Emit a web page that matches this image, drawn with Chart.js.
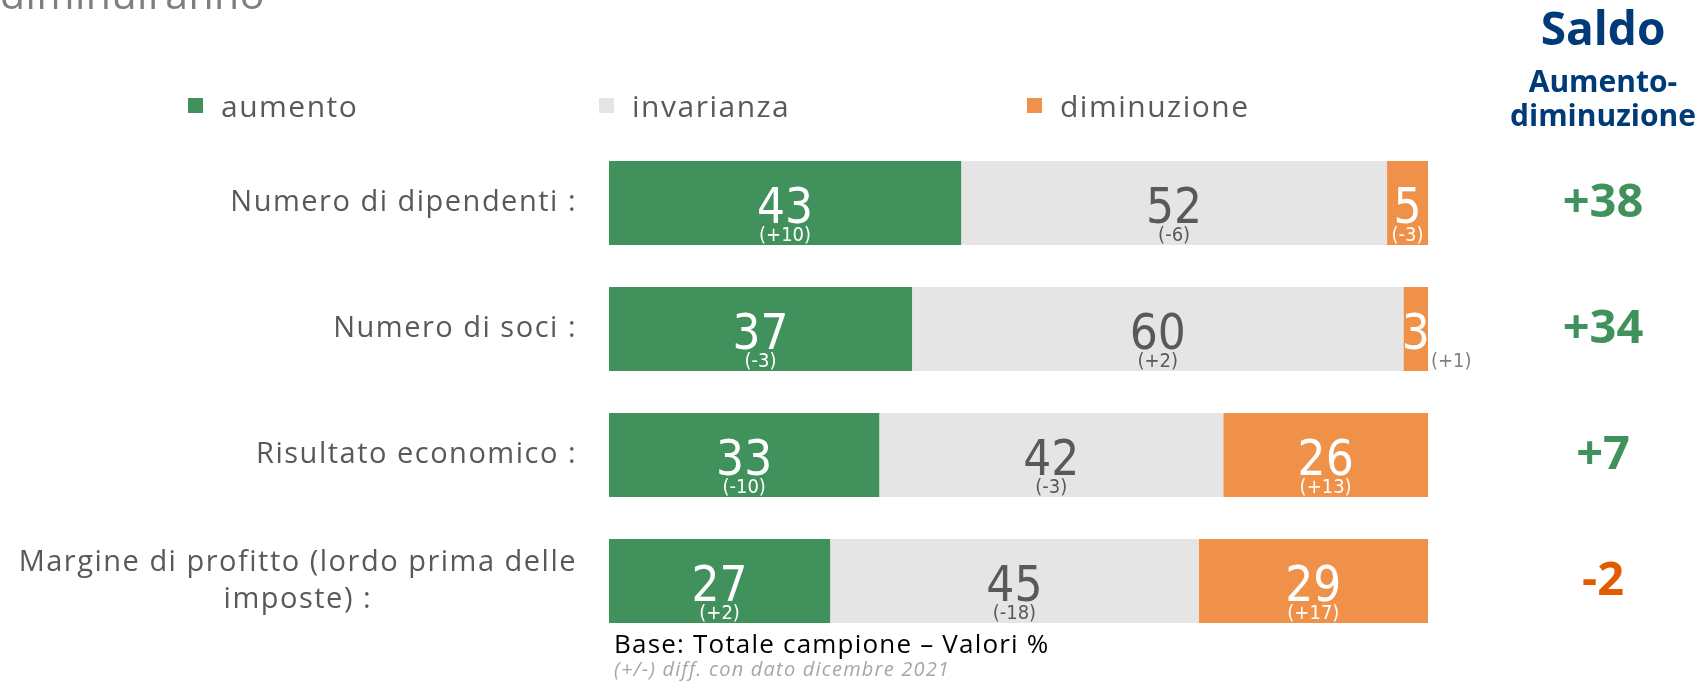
<!DOCTYPE html>
<html><head><meta charset="utf-8">
<script src="https://cdn.jsdelivr.net/npm/chart.js@4.4.0/dist/chart.umd.min.js"></script>
<style>
html,body{margin:0;padding:0;background:#fff;}
body{width:1698px;height:681px;position:relative;overflow:hidden;font-family:"Open Sans",sans-serif;}
#wrap{position:absolute;left:0;top:0;width:1698px;height:681px;}
.abs{position:absolute;white-space:nowrap;line-height:1;}
#topText{left:0;top:-27px;font-size:41px;color:#7f7f7f;letter-spacing:0.5px;}
.lg-item{position:absolute;top:0;height:30px;}
.lg-box{position:absolute;left:0;top:98px;width:15px;height:15px;}
.lg-txt{position:absolute;left:33px;top:91px;font-size:30px;color:#595959;line-height:30px;letter-spacing:1.5px;white-space:nowrap;}
#saldoHead{left:1503px;width:200px;text-align:center;color:#003A78;font-weight:700;}
#saldoTitle{position:absolute;left:0;width:200px;top:4px;font-size:46px;line-height:1;}
#saldoSub{position:absolute;left:0;width:200px;top:64px;font-size:30px;line-height:34px;}
#note1{left:614px;top:630px;font-size:26px;color:#000;letter-spacing:1.2px;}
#note2{left:614px;top:659px;font-size:20px;color:#a6a6a6;font-style:italic;letter-spacing:1.2px;}
</style></head><body>
<div id="wrap"><canvas id="c" width="1698" height="681"></canvas></div>
<div class="abs" id="topText">diminuiranno</div>
<div id="legend"></div>
<div class="abs" id="saldoHead"><div id="saldoTitle">Saldo</div><div id="saldoSub">Aumento-<br>diminuzione</div></div>
<div class="abs" id="note1">Base: Totale campione – Valori %</div>
<div class="abs" id="note2">(+/-) diff. con dato dicembre 2021</div>
<script>
// ---- data ----
const categories = [
  ["Numero di dipendenti :"],
  ["Numero di soci :"],
  ["Risultato economico :"],
  ["Margine di profitto (lordo prima delle", "imposte) :"]
];
const seriesNames = ["aumento", "invarianza", "diminuzione"];
const aumento = [43, 37, 33, 27];
const invarianza = [52, 60, 42, 45];
const diminuzione = [5, 3, 26, 29];
const diffAumento = ["(+10)", "(-3)", "(-10)", "(+2)"];
const diffInvarianza = ["(-6)", "(+2)", "(-3)", "(-18)"];
const diffDiminuzione = ["(-3)", "(+1)", "(+13)", "(+17)"];
const saldo = [38, 34, 7, -2];

// ---- styles ----
const barColors = ["#40915C", "#E5E5E5", "#F0914A"];
const valueColors = ["#ffffff", "#595959", "#ffffff"];
const diffs = [diffAumento, diffInvarianza, diffDiminuzione];
const numFont = '"Liberation Sans Narrow", "Arial Narrow", "DejaVu Sans Condensed", sans-serif';

const labelPlugin = {
  id: 'customLabels',
  afterDatasetsDraw(chart) {
    const ctx = chart.ctx;
    const area = chart.chartArea;
    const yScale = chart.scales.y;
    ctx.save();
    // category labels
    ctx.fillStyle = '#595959';
    ctx.font = '29px "Open Sans", sans-serif';
    if ('letterSpacing' in ctx) ctx.letterSpacing = '1.5px';
    ctx.textBaseline = 'middle';
    ctx.textAlign = 'center';
    const lh = 37;
    const rightX = area.left - 32;
    categories.forEach((lines, i) => {
      const y = yScale.getPixelForValue(i);
      let maxW = 0;
      lines.forEach(l => { maxW = Math.max(maxW, ctx.measureText(l).width); });
      const cx = rightX - maxW / 2;
      lines.forEach((l, j) => {
        ctx.fillText(l, cx, y + (j - (lines.length - 1) / 2) * lh);
      });
    });
    if ('letterSpacing' in ctx) ctx.letterSpacing = '0px';
    // bar value labels
    chart.data.datasets.forEach((ds, d) => {
      const meta = chart.getDatasetMeta(d);
      meta.data.forEach((el, i) => {
        const left = Math.min(el.base, el.x);
        const right = Math.min(Math.max(el.base, el.x), area.right);
        const cx = (left + right) / 2;
        const cy = el.y;
        const bottom = cy + el.height / 2;
        ctx.textBaseline = 'alphabetic';
        ctx.textAlign = 'center';
        ctx.fillStyle = valueColors[d];
        ctx.font = '49px ' + numFont;
        ctx.fillText(String(ds.data[i]), cx, cy + 19.5);
        ctx.font = '20px ' + numFont;
        const txt = diffs[d][i];
        const w = ctx.measureText(txt).width;
        if (w > (right - left) - 2) {
          ctx.textAlign = 'left';
          ctx.fillStyle = '#7f7f7f';
          ctx.fillText(txt, right + 3, bottom - 4);
        } else {
          ctx.fillText(txt, cx, bottom - 4);
        }
      });
    });
    // saldo column
    ctx.textAlign = 'center';
    ctx.textBaseline = 'alphabetic';
    ctx.font = '700 47px "Open Sans", sans-serif';
    saldo.forEach((v, i) => {
      const y = yScale.getPixelForValue(i);
      ctx.fillStyle = v >= 0 ? '#40915C' : '#E35B00';
      ctx.fillText((v > 0 ? '+' : '') + v, area.right + 175, y + 14);
    });
    ctx.restore();
  }
};

const chart = new Chart(document.getElementById('c'), {
  type: 'bar',
  data: {
    labels: categories,
    datasets: [
      { label: seriesNames[0], data: aumento, backgroundColor: barColors[0] },
      { label: seriesNames[1], data: invarianza, backgroundColor: barColors[1] },
      { label: seriesNames[2], data: diminuzione, backgroundColor: barColors[2] }
    ].map(ds => Object.assign(ds, { borderWidth: 0, barPercentage: 1, categoryPercentage: 0.667, clip: 0 }))
  },
  options: {
    indexAxis: 'y',
    responsive: false,
    animation: false,
    devicePixelRatio: 1,
    layout: { padding: { left: 609, right: 270, top: 140, bottom: 37 } },
    plugins: { legend: { display: false }, tooltip: { enabled: false } },
    scales: {
      x: { stacked: true, min: 0, max: 100, display: false },
      y: { stacked: true, display: false }
    }
  },
  plugins: [labelPlugin]
});

// HTML legend built from datasets
const legendX = [188, 599, 1027];
const lg = document.getElementById('legend');
chart.data.datasets.forEach((ds, i) => {
  const item = document.createElement('div');
  item.className = 'lg-item';
  item.style.left = legendX[i] + 'px';
  item.innerHTML = '<div class="lg-box" style="background:' + ds.backgroundColor + '"></div><div class="lg-txt">' + ds.label + '</div>';
  lg.appendChild(item);
});
</script>
</body></html>
